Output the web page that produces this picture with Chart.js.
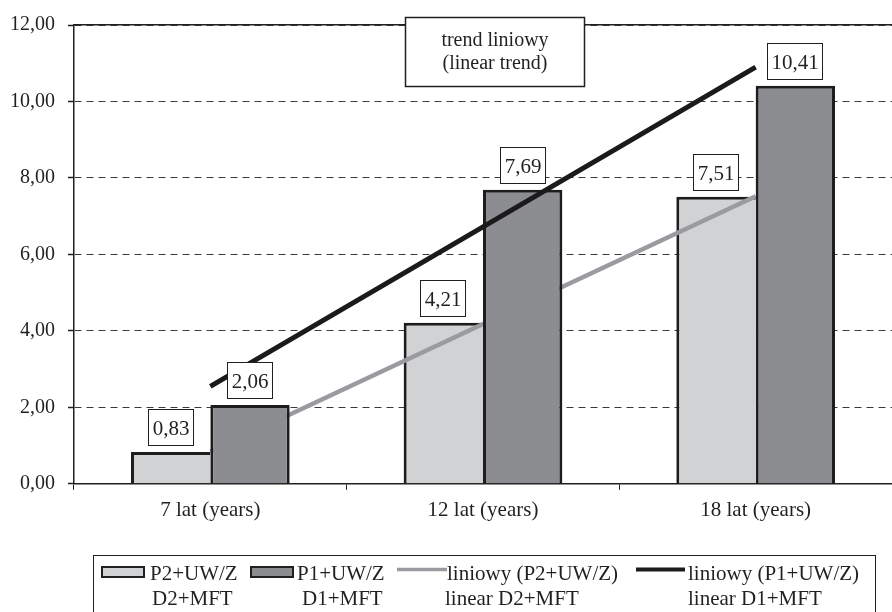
<!DOCTYPE html>
<html>
<head>
<meta charset="utf-8">
<script src="https://cdn.jsdelivr.net/npm/chart.js@4/dist/chart.umd.min.js"></script>
<style>
  html, body { margin: 0; padding: 0; background: #ffffff; }
  #wrap { width: 892px; height: 612px; }
</style>
</head>
<body>
<div id="wrap"><canvas id="c" width="892" height="612"></canvas></div>
<script>
// Categories and values
const categories = ['7 lat (years)', '12 lat (years)', '18 lat (years)'];
const seriesP2 = [0.83, 4.21, 7.51];
const seriesP1 = [2.06, 7.69, 10.41];
// Linear trend lines of both series
const trendP2 = [0.84, 4.18, 7.52];
const trendP1 = [2.55, 6.72, 10.90];
const yTicks = [0, 2, 4, 6, 8, 10, 12];
const seriesNames = ['P2+UW/Z', 'P1+UW/Z', 'liniowy (P2+UW/Z)', 'liniowy (P1+UW/Z)'];
const seriesSubNames = ['D2+MFT', 'D1+MFT', 'linear D2+MFT', 'linear D1+MFT'];
const noteLines = ['trend liniowy', '(linear trend)'];

const INK = '#231f20';
const LIGHT = '#d1d2d4';
const DARK = '#8c8d91';
const TREND_GRAY = '#9a9b9f';
const TREND_BLACK = '#1c1a1b';
const FONT = "'Liberation Serif', 'Times New Roman', serif";

Chart.defaults.font.family = FONT;
Chart.defaults.font.size = 20;
Chart.defaults.color = INK;

const fmt = v => v.toFixed(2).replace('.', ',');

// Draw order: light bars, gray trend, dark bars, black trend
const layerPlugin = {
  id: 'layers',
  beforeDatasetsDraw(chart) {
    const ctx = chart.ctx;
    const a = chart.chartArea;
    ctx.save();
    ctx.beginPath();
    ctx.rect(a.left, a.top - 4, a.right - a.left, a.bottom - a.top + 4);
    ctx.clip();
    [0, 2, 1, 3].forEach(i => chart.getDatasetMeta(i).controller.draw());
    ctx.restore();
    return false;
  }
};

const decorPlugin = {
  id: 'decor',
  afterDraw(chart) {
    const ctx = chart.ctx;
    ctx.save();
    ctx.textBaseline = 'alphabetic';

    // value boxes above the bars
    ctx.font = '21px ' + FONT;
    [0, 1].forEach(ds => {
      const meta = chart.getDatasetMeta(ds);
      const vals = chart.data.datasets[ds].data;
      meta.data.forEach((bar, i) => {
        const txt = fmt(vals[i]);
        const w = Math.round(ctx.measureText(txt).width) + 9;
        const h = 37;
        const cx = Math.round(bar.x);
        const bottom = Math.round(bar.y) - 6;
        const x0 = Math.round(cx - w / 2);
        const y0 = bottom - h;
        ctx.fillStyle = '#ffffff';
        ctx.fillRect(x0, y0, w, h);
        ctx.strokeStyle = INK;
        ctx.lineWidth = 1;
        ctx.strokeRect(x0 + 0.5, y0 + 0.5, w - 1, h - 1);
        ctx.fillStyle = INK;
        ctx.textAlign = 'center';
        ctx.fillText(txt, cx, bottom - 11);
      });
    });

    // note box
    ctx.font = '20px ' + FONT;
    ctx.fillStyle = '#ffffff';
    ctx.fillRect(405, 17, 180, 70);
    ctx.strokeStyle = INK;
    ctx.lineWidth = 1.5;
    ctx.strokeRect(405.5, 17.5, 179, 69);
    ctx.fillStyle = INK;
    ctx.textAlign = 'center';
    ctx.fillText(noteLines[0], 495, 46);
    ctx.fillText(noteLines[1], 495, 69);

    // legend
    ctx.font = '21px ' + FONT;
    ctx.lineWidth = 1;
    ctx.strokeStyle = INK;
    ctx.strokeRect(93.5, 555.5, 782, 70);
    ctx.textAlign = 'left';
    // bar swatches
    [[101, LIGHT], [250, DARK]].forEach(([x, c]) => {
      ctx.fillStyle = c;
      ctx.fillRect(x, 566, 44, 12);
      ctx.strokeStyle = INK;
      ctx.lineWidth = 2;
      ctx.strokeRect(x + 1, 567, 42, 10);
    });
    // line swatches
    [[397, 447, TREND_GRAY, 3.5], [636, 685, TREND_BLACK, 4]].forEach(([x1, x2, c, lw]) => {
      ctx.strokeStyle = c;
      ctx.lineWidth = lw;
      ctx.beginPath();
      ctx.moveTo(x1, 569.5);
      ctx.lineTo(x2, 569.5);
      ctx.stroke();
    });
    ctx.fillStyle = INK;
    const row1 = [150, 297, 447, 688];
    const row2 = [152, 302, 445, 688];
    seriesNames.forEach((t, i) => ctx.fillText(t, row1[i], 580));
    seriesSubNames.forEach((t, i) => ctx.fillText(t, row2[i], 605));
    ctx.restore();
  }
};

new Chart(document.getElementById('c'), {
  data: {
    labels: categories,
    datasets: [
      {
        type: 'bar', label: seriesNames[0], data: seriesP2,
        backgroundColor: LIGHT, borderColor: '#1e1c1d',
        borderSkipped: false,
        borderWidth: { top: 3, left: 3, right: 0, bottom: 0 }
      },
      {
        type: 'bar', label: seriesNames[1], data: seriesP1,
        backgroundColor: DARK, borderColor: '#1e1c1d',
        borderSkipped: false,
        borderWidth: { top: 3, left: 3, right: 3, bottom: 0 }
      },
      {
        type: 'line', label: seriesNames[2], data: trendP2,
        borderColor: TREND_GRAY, borderWidth: 4.5, pointRadius: 0, fill: false
      },
      {
        type: 'line', label: seriesNames[3], data: trendP1,
        borderColor: TREND_BLACK, borderWidth: 5, pointRadius: 0, fill: false
      }
    ]
  },
  options: {
    responsive: false,
    devicePixelRatio: 1,
    animation: false,
    events: [],
    layout: { padding: { left: -3, top: 25, right: -3, bottom: 81 } },
    datasets: {
      bar: { categoryPercentage: 0.582, barPercentage: 1.0 }
    },
    plugins: { legend: { display: false }, tooltip: { enabled: false } },
    scales: {
      x: {
        type: 'category',
        grid: { display: true, offset: true, drawOnChartArea: false, tickLength: 6, color: INK, tickColor: INK },
        border: { display: true, color: INK, width: 1.5 },
        ticks: { padding: 8, color: INK, font: { size: 21 } }
      },
      xTop: {
        type: 'category',
        position: 'top',
        grid: { display: false, drawTicks: false },
        border: { display: true, color: INK, width: 1.5 },
        ticks: { display: false }
      },
      y: {
        type: 'linear',
        min: 0, max: 12,
        afterBuildTicks: s => { s.ticks = yTicks.map(v => ({ value: v })); },
        grid: { color: '#3c3a3b', lineWidth: 1, tickLength: 6, tickColor: INK, tickWidth: 1.5 },
        border: { display: true, color: INK, width: 1.5, dash: [7, 5] },
        ticks: { padding: 13, color: INK, font: { size: 20 }, callback: v => fmt(v) }
      }
    }
  },
  plugins: [layerPlugin, decorPlugin]
});
</script>
</body>
</html>
